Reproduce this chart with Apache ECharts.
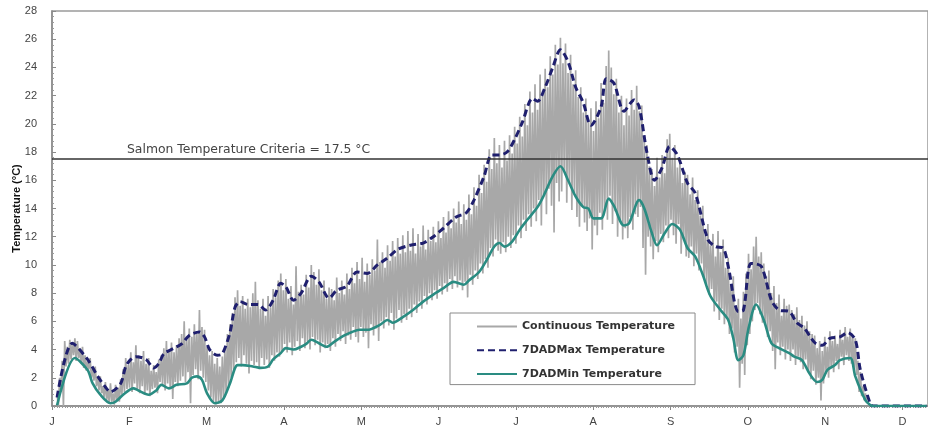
<!DOCTYPE html>
<html>
<head>
<meta charset="utf-8">
<script src="https://cdn.jsdelivr.net/npm/echarts@6/dist/echarts.min.js"></script>
<style>html,body{margin:0;padding:0;background:#fff}#c{width:928px;height:431px}</style>
</head>
<body>
<div id="c"></div>
<script>
var monthLabels = ['J','F','M','A','M','J','J','A','S','O','N','D'];
var yTicks = [0,2,4,6,8,10,12,14,16,18,20,22,24,26,28];
var criteria = 17.5;
var criteriaLabel = 'Salmon Temperature Criteria = 17.5 °C';
var seriesNames = ['Continuous Temperature','7DADMax Temperature','7DADMin Temperature'];

var maxDays = [2,8,14,18,21,23,27,29,31,33,37,40,42,44,48,51,54,58,60,62,65,67,70,72,74,77,81,84,87,90,92,95,98,102,105,109,112,116,120,124,128,132,136,141,146,150,154,159,163,166,170,173,176,179,182,185,189,191,194,197,200,203,206,209,212,216,218,221,225,229,231,234,237,240,243,246,250,253,258,261,264,266,270,272,275,279,283,286,290,293,296,300,303,306,310,313,316,318,322,323,344];
var maxVals = [0.6,4.45,3.3,2.1,1.35,1.0,1.6,2.8,3.3,3.5,3.3,2.7,3.0,3.7,4.1,4.4,5.0,5.25,4.9,4.0,3.6,3.7,5.2,7.0,7.4,7.2,7.2,6.8,7.5,8.7,8.45,7.5,8.0,9.2,8.8,7.65,8.2,8.5,9.5,9.4,10.0,10.5,11.1,11.4,11.55,12.0,12.6,13.4,13.7,14.6,16.3,17.8,17.8,18.0,18.9,20.1,21.8,21.6,22.6,24.0,25.25,24.4,22.6,21.5,19.9,21.2,23.2,22.9,20.9,21.7,21.2,18.0,16.0,16.9,18.4,17.8,15.8,15.1,11.8,11.3,11.2,9.9,6.7,6.8,10.1,9.9,7.5,6.8,6.7,5.9,5.5,4.5,4.3,4.8,4.9,5.2,4.7,2.55,0.1,0,0];

var minDays = [2,9,14,16,19,23,25,28,32,34,38,41,43,46,49,53,55,57,59,61,64,67,70,73,75,79,82,85,87,90,92,95,98,100,102,105,108,111,115,118,121,124,129,132,134,138,142,146,150,154,158,162,164,168,171,174,176,178,181,184,187,191,193,197,200,203,206,209,211,213,216,219,221,225,227,231,233,236,238,241,244,247,250,253,256,259,263,266,268,270,272,274,277,280,283,286,290,292,295,298,301,303,305,308,310,314,316,320,322,323,344];
var minVals = [0.05,3.4,2.55,1.6,0.8,0.2,0.3,0.8,1.25,1.1,0.8,1.1,1.5,1.25,1.5,1.6,2.0,2.1,1.85,0.9,0.2,0.4,1.6,2.9,2.9,2.8,2.7,2.8,3.3,3.75,4.1,4.0,4.2,4.4,4.7,4.45,4.2,4.55,5.0,5.25,5.4,5.4,5.75,6.1,5.9,6.3,6.8,7.4,7.9,8.35,8.8,8.6,8.9,9.5,10.35,11.3,11.55,11.3,11.65,12.5,13.2,14.1,14.75,16.3,17.0,16.0,14.85,14.1,14.0,13.3,13.3,14.7,14.2,12.8,12.95,14.6,14.0,12.25,11.4,12.25,12.9,12.5,11.2,10.6,9.3,7.8,6.8,6.1,4.8,3.25,3.6,5.5,7.2,6.1,4.45,4.1,3.75,3.5,3.25,2.3,1.7,1.85,2.55,2.9,3.25,3.4,2.1,0.4,0.05,0,0];

var contStartDay = 2;
var contHi = [
0.8,2.0,3.2,4.6,4.2,4.7,4.5,4.8,
4.6,4.0,4.2,3.6,3.2,3.4,2.6,2.8,2.0,2.1,
1.4,1.7,1.2,1.6,0.9,1.5,1.3,1.9,2.6,3.4,
2.9,3.8,3.1,4.3,3.6,3.2,3.9,3.0,3.4,2.5,
2.9,2.4,3.3,3.6,4.1,4.6,3.9,4.5,3.8,4.3,
4.8,5.1,6.0,4.7,5.5,4.9,5.8,5.1,6.8,5.6,
5.4,4.2,3.6,3.9,3.0,3.4,2.8,3.5,4.0,5.1,
5.8,6.6,7.7,8.2,7.1,7.8,6.9,7.6,7.0,8.0,
8.8,7.5,6.9,7.6,6.4,7.8,7.0,8.3,7.7,8.9,
9.4,8.2,9.0,7.6,8.5,7.2,9.9,8.1,8.6,7.9,
9.3,8.4,10.0,9.5,8.6,9.7,8.2,8.9,7.6,8.4,
8.3,7.5,9.1,8.0,8.9,7.9,9.4,8.3,9.8,8.7,
10.2,9.0,10.5,8.8,10.1,9.3,10.4,9.6,11.8,10.2,
10.9,9.8,11.4,10.3,11.7,10.6,11.9,10.8,12.1,10.9,
12.4,11.0,12.6,10.8,12.2,11.3,12.8,11.1,12.5,11.7,
12.7,11.6,13.1,11.9,13.4,12.3,13.8,12.6,14.0,13.0,
14.5,12.9,14.3,13.2,15.0,13.6,15.5,14.2,16.4,15.1,
17.1,15.9,18.2,16.8,19.0,17.2,18.5,16.9,18.8,17.4,
19.2,17.9,19.8,18.6,20.5,19.1,21.4,19.9,22.3,20.8,
22.8,21.0,23.5,22.2,23.9,22.6,24.8,23.5,25.6,24.2,
26.1,24.3,25.7,23.6,24.9,22.8,23.8,21.9,22.6,20.8,
21.8,20.2,21.1,19.5,21.6,20.4,22.9,21.5,24.1,25.2,
24.0,22.1,23.2,20.8,22.0,19.9,21.8,20.6,22.4,21.0,
22.7,20.9,21.3,19.2,18.5,17.0,16.8,15.6,17.6,16.2,
17.8,16.5,18.9,19.3,17.6,18.5,16.9,17.4,15.8,16.6,
16.4,15.0,16.2,14.6,15.3,13.5,14.2,12.1,12.9,11.4,
12.2,10.6,12.4,10.9,11.8,9.8,10.5,8.6,9.2,7.1,
7.6,6.2,8.1,9.4,10.8,9.7,11.3,12.0,10.6,10.9,
10.1,9.2,9.6,8.0,8.5,7.3,7.9,6.4,7.6,7.1,
7.2,6.8,6.5,7.0,6.1,6.4,5.7,6.0,5.3,5.1,
5.0,4.1,4.6,3.9,4.9,4.2,5.3,4.6,5.0,4.4,
5.4,4.7,5.6,4.9,5.5,5.0,4.8,3.2,2.4,1.4,
0.9,0.4,0.1];
var contLo = [
0.0,1.0,0.0,2.8,3.0,3.3,3.6,3.2,
3.4,3.0,2.7,2.5,2.6,2.0,1.8,1.4,1.1,0.9,
0.6,0.4,0.2,0.3,0.1,0.4,0.3,0.8,1.0,1.2,
1.3,1.0,1.6,1.2,0.9,1.4,0.8,1.1,0.7,1.2,
1.3,0.9,1.7,1.5,1.1,1.6,1.3,0.5,1.7,1.4,
1.8,2.1,1.7,2.4,0.2,2.2,2.6,1.9,2.5,2.0,
1.7,1.1,0.6,0.3,0.1,0.3,0.2,0.5,0.9,1.3,
2.0,2.6,3.1,3.4,2.8,3.6,3.0,2.3,3.2,2.9,
3.1,2.6,3.4,2.9,3.3,2.7,3.6,3.2,3.8,3.5,
3.9,4.4,3.8,4.5,3.6,4.2,4.6,3.9,4.8,4.1,
4.6,4.0,4.9,4.3,4.7,3.8,4.5,4.1,4.4,3.9,
4.8,4.2,5.1,4.6,5.3,4.4,5.0,4.7,5.6,4.9,
4.5,5.6,4.9,5.2,4.1,5.8,5.0,5.5,4.6,6.0,
5.5,6.3,5.7,6.6,5.4,6.2,6.8,5.9,6.5,6.1,
6.9,6.3,7.2,6.6,7.4,6.9,7.8,7.2,8.0,7.5,
8.2,7.6,8.5,7.9,8.7,8.1,9.0,8.3,9.2,8.4,
8.9,8.2,8.8,7.7,9.3,8.6,9.6,9.0,10.1,9.4,
10.4,9.8,11.2,10.6,11.8,11.0,10.8,11.6,10.9,12.0,
11.2,12.1,11.5,12.8,11.9,13.2,12.4,13.6,12.7,14.0,
13.1,14.6,12.8,15.0,13.6,15.4,14.2,12.3,15.8,14.5,
15.2,16.6,14.4,15.8,13.9,15.1,13.4,12.7,14.2,13.0,
12.4,13.3,11.1,12.8,12.1,13.7,12.5,14.0,13.2,14.9,
12.9,13.8,12.0,13.1,11.8,12.6,11.9,13.4,12.5,13.6,
13.4,14.1,11.2,9.3,12.0,11.3,10.4,11.7,10.9,12.2,
11.6,12.8,11.9,13.2,12.1,11.5,12.9,10.8,11.8,10.6,
10.5,11.3,9.9,10.8,9.6,10.1,9.0,8.6,7.9,8.3,
6.7,7.4,6.1,6.9,5.8,6.3,5.1,5.5,3.8,4.2,
1.3,3.0,2.2,4.3,5.1,6.0,6.8,7.3,6.5,5.9,
5.8,4.9,5.3,3.9,2.6,4.5,3.6,4.2,3.3,4.0,
3.2,4.0,2.9,3.5,3.1,2.6,3.3,2.4,1.9,2.5,
1.5,2.0,0.4,1.6,2.3,2.0,2.8,2.4,3.2,2.6,
3.5,2.9,3.6,3.2,3.0,2.4,2.2,1.0,0.7,0.4,
0.3,0.1,0.0];

var daysPerMonth = 365 / 12;
var xMax = 344.6;

var contData = [];
for (var i = 0; i < contHi.length; i++) {
  contData.push([contStartDay + i, contHi[i]]);
  contData.push([contStartDay + i + 0.5, contLo[i]]);
}
function pairs(d, v) { return d.map(function (x, k) { return [x, v[k]]; }); }

var chart = echarts.init(document.getElementById('c'), null, { renderer: 'canvas' });
chart.setOption({
  animation: false,
  backgroundColor: '#ffffff',
  grid: { left: 52, right: 0, top: 11, bottom: 25, show: true, borderColor: '#9a9a9a', borderWidth: 1.5,
          containLabel: false, outerBoundsMode: 'none' },
  legend: {
    orient: 'vertical', left: 450, top: 313,
    padding: [8, 20, 5, 26],
    itemGap: 12.5,
    itemWidth: 40, itemHeight: 14,
    backgroundColor: '#fff',
    borderColor: '#8a8a8a', borderWidth: 1, borderRadius: 0,
    itemStyle: { opacity: 0 },
    data: seriesNames,
    textStyle: { fontFamily: 'DejaVu Sans, sans-serif', fontWeight: 'bold', fontSize: 11, color: '#333' }
  },
  xAxis: {
    type: 'value', min: 0, max: xMax, interval: daysPerMonth,
    axisLine: { lineStyle: { color: '#8a8a8a', width: 1.5 } },
    axisTick: { show: true, length: 4, lineStyle: { color: '#8a8a8a' } },
    minorTick: { show: true, splitNumber: 30, length: 2, lineStyle: { color: '#9a9a9a' } },
    splitLine: { show: false },
    axisLabel: {
      margin: 10, fontSize: 11, color: '#444', fontFamily: 'Liberation Sans, Arial, sans-serif',
      formatter: function (v) { var k = Math.round(v / daysPerMonth); return monthLabels[k] || ''; },
      showMaxLabel: false
    }
  },
  yAxis: {
    type: 'value', min: yTicks[0], max: yTicks[yTicks.length - 1], interval: 2,
    name: 'Temperature (°C)', nameLocation: 'middle', nameGap: 30, nameMoveOverlap: false,
    nameTextStyle: { fontFamily: 'Liberation Sans, Arial, sans-serif', fontWeight: 'bold', fontSize: 11, color: '#111' },
    axisLine: { show: true, lineStyle: { color: '#8a8a8a', width: 1.5 } },
    axisTick: { show: true, inside: true, length: 4, lineStyle: { color: '#8a8a8a' } },
    minorTick: { show: true, splitNumber: 5, length: 2, lineStyle: { color: '#9a9a9a' } },
    splitLine: { show: false },
    axisLabel: { fontSize: 11, color: '#444', margin: 15, fontFamily: 'Liberation Sans, Arial, sans-serif' }
  },
  series: [
    {
      name: seriesNames[0], type: 'line', data: contData, showSymbol: false, symbol: 'none',
      lineStyle: { color: '#a8a8a8', width: 1.7 }, itemStyle: { color: '#a8a8a8' }, z: 2,
      markLine: {
        silent: true, symbol: ['none', 'none'],
        lineStyle: { color: '#333', width: 1.5, type: 'solid' },
        label: {
          show: true, position: 'insideStartTop', distance: [75, 3],
          formatter: criteriaLabel, color: '#444', fontSize: 12.4,
          fontFamily: 'DejaVu Sans, sans-serif'
        },
        data: [{ yAxis: criteria }]
      }
    },
    {
      name: seriesNames[1], type: 'line', data: pairs(maxDays, maxVals), showSymbol: false, symbol: 'none',
      smooth: 0.3,
      lineStyle: { color: '#1f1f6e', width: 3, type: [7, 4] }, itemStyle: { color: '#1f1f6e' }, z: 3
    },
    {
      name: seriesNames[2], type: 'line', data: pairs(minDays, minVals), showSymbol: false, symbol: 'none',
      smooth: 0.3,
      lineStyle: { color: '#2a8c82', width: 2.6 }, itemStyle: { color: '#2a8c82' }, z: 4
    }
  ]
});
</script>
</body>
</html>
